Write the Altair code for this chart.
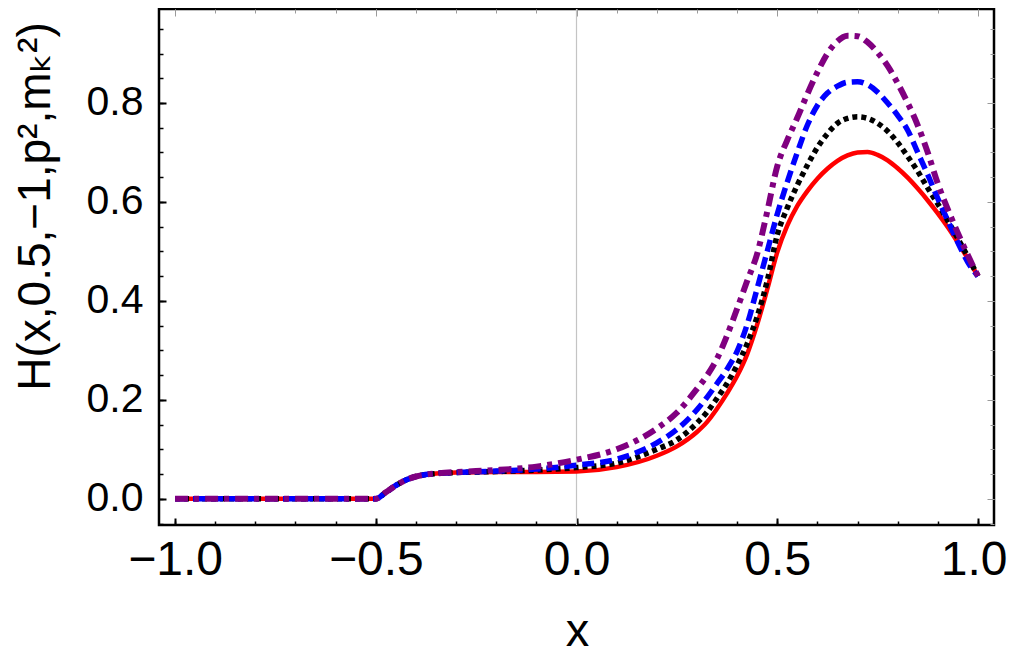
import altair as alt
import pandas as pd

X_VALUES = [-1.0, -0.9, -0.8, -0.7, -0.6, -0.5, -0.475, -0.45, -0.425, -0.4, -0.375, -0.35,
            -0.3, -0.2, -0.1, 0.0, 0.1, 0.2, 0.25,
            0.3, 0.325, 0.35, 0.375, 0.4, 0.425, 0.45, 0.475, 0.5, 0.525, 0.55, 0.575,
            0.6, 0.625, 0.65, 0.675, 0.7, 0.725, 0.75, 0.775, 0.8, 0.825, 0.85, 0.875,
            0.9, 0.925, 0.95, 0.975, 1.0]

COMMON_LOW = [0, 0, 0, 0, 0, 0, 0.013, 0.027, 0.038, 0.045, 0.049, 0.051]

RED = COMMON_LOW + [0.053, 0.054, 0.054, 0.055, 0.064, 0.087, 0.106,
                    0.135, 0.155, 0.182, 0.213, 0.248, 0.292, 0.352, 0.423, 0.498, 0.552,
                    0.592, 0.622, 0.647, 0.667, 0.683, 0.694, 0.700, 0.701, 0.695, 0.684,
                    0.668, 0.649, 0.627, 0.603, 0.577, 0.549, 0.518, 0.485, 0.45]
BLACK = COMMON_LOW + [0.053, 0.055, 0.058, 0.063, 0.072, 0.100, 0.119,
                      0.153, 0.175, 0.203, 0.233, 0.270, 0.313, 0.368, 0.440, 0.533, 0.588,
                      0.634, 0.674, 0.710, 0.738, 0.759, 0.769, 0.772, 0.769, 0.759, 0.743,
                      0.720, 0.692, 0.662, 0.628, 0.596, 0.562, 0.526, 0.489, 0.45]
BLUE = COMMON_LOW + [0.053, 0.056, 0.060, 0.068, 0.080, 0.113, 0.140,
                     0.180, 0.205, 0.233, 0.262, 0.298, 0.352, 0.425, 0.500, 0.575, 0.640,
                     0.700, 0.755, 0.795, 0.820, 0.834, 0.842, 0.843, 0.837, 0.822, 0.800,
                     0.775, 0.745, 0.700, 0.655, 0.607, 0.562, 0.518, 0.478, 0.45]
PURPLE = COMMON_LOW + [0.054, 0.058, 0.065, 0.079, 0.100, 0.142, 0.174,
                       0.222, 0.249, 0.283, 0.330, 0.384, 0.440, 0.495, 0.580, 0.672, 0.725,
                       0.770, 0.818, 0.862, 0.900, 0.925, 0.936, 0.935, 0.923, 0.902, 0.875,
                       0.840, 0.800, 0.755, 0.700, 0.637, 0.585, 0.537, 0.492, 0.45]

X_MAJOR = [-1.0, -0.5, 0.0, 0.5, 1.0]
X_LABEL_END = [1.0]
X_MINOR = [-1.0, -0.9, -0.8, -0.7, -0.6, -0.5, -0.4, -0.3, -0.2, -0.1, 0.0,
           0.1, 0.2, 0.3, 0.4, 0.5, 0.6, 0.7, 0.8, 0.9, 1.0]
Y_MAJOR = [0.0, 0.2, 0.4, 0.6, 0.8]
Y_MINOR = [-0.05, 0.0, 0.05, 0.1, 0.15, 0.2, 0.25, 0.3, 0.35, 0.4, 0.45, 0.5, 0.55,
           0.6, 0.65, 0.7, 0.75, 0.8, 0.85, 0.9, 0.95]

SANS = "Liberation Sans, Arial, DejaVu Sans, sans-serif"
XFS = 48

def frame(name, ys):
    return pd.DataFrame({"x": X_VALUES, "y": ys, "series": name})

xs = alt.Scale(domain=[-1.04, 1.04], nice=False, zero=False)
ysc = alt.Scale(domain=[-0.053, 0.99], nice=False, zero=False)

ax_bottom = alt.Axis(orient="bottom", values=X_MAJOR, format=".1f", offset=-7, tickSize=7,
                     tickWidth=2, tickColor="black", labelFontSize=XFS, labelFont=SANS,
                     labelColor="black", labelPadding=11, labelFlush=False, labelOverlap=False,
                     labelExpr="datum.value > 0.99 ? '' : datum.label",
                     title="x", titleFont=SANS, titleFontSize=47, titleFontWeight="normal",
                     titleColor="black", titleX=418, titleY=113, titleBaseline="middle",
                     titleAlign="center")
ax_bottom_end = alt.Axis(orient="bottom", values=X_LABEL_END, format=".1f", offset=-7,
                         tickSize=7, ticks=False, labelFontSize=XFS, labelFont=SANS,
                         labelColor="black", labelPadding=18, labelFlush=20,
                         labelFlushOffset=29, labelOverlap=False, title=None)
ax_bottom_minor = alt.Axis(orient="bottom", values=X_MINOR, offset=-4, tickSize=4,
                           tickWidth=1.5, tickColor="black", labels=False, title=None)
ax_top = alt.Axis(orient="top", values=X_MAJOR, offset=-7, tickSize=7, tickWidth=1,
                  tickColor="#9a9a9a", labels=False, title=None)
ax_top_minor = alt.Axis(orient="top", values=X_MINOR, offset=-4, tickSize=4, tickWidth=1,
                        tickColor="#9a9a9a", labels=False, title=None)

ax_left = alt.Axis(orient="left", values=Y_MAJOR, format=".1f", offset=-7, tickSize=7,
                   tickWidth=2, tickColor="black", labelFontSize=41, labelFont=SANS,
                   labelColor="black", labelPadding=16, labelFlush=False, labelOverlap=False,
                   title="H(x,0.5,\u22121,p\u00b2,m\u2096\u00b2)", titleFont=SANS,
                   titleFontSize=46, titleFontWeight="normal", titleColor="black",
                   titleAngle=270, titleX=-131, titleY=197, titleBaseline="middle",
                   titleAlign="center")
ax_left_minor = alt.Axis(orient="left", values=Y_MINOR, offset=-4, tickSize=4,
                         tickWidth=1.5, tickColor="black", labels=False, title=None)
ax_right = alt.Axis(orient="right", values=Y_MAJOR, offset=-7, tickSize=7, tickWidth=1,
                    tickColor="#9a9a9a", labels=False, title=None)
ax_right_minor = alt.Axis(orient="right", values=Y_MINOR, offset=-4, tickSize=4, tickWidth=1,
                          tickColor="#9a9a9a", labels=False, title=None)

zero_rule = alt.Chart(pd.DataFrame({"x": [0.0]})).mark_rule(
    color="#c4c4c4", strokeWidth=1.2
).encode(x=alt.X("x:Q", scale=xs, axis=ax_bottom_end))

def line(df, color, dash, width, xaxis, yaxis):
    kw = dict(color=color, strokeWidth=width, interpolate="monotone", strokeCap="butt",
              strokeJoin="round")
    if dash:
        kw["strokeDash"] = dash
    return alt.Chart(df).mark_line(**kw).encode(
        x=alt.X("x:Q", scale=xs, axis=xaxis),
        y=alt.Y("y:Q", scale=ysc, axis=yaxis),
        order="x:Q",
    )

red = line(frame("red", RED), "#ff0000", None, 4.5, ax_bottom, ax_left)
black = line(frame("black", BLACK), "#000000", [5, 4], 5.5, ax_bottom_minor, ax_left_minor)
blue = line(frame("blue", BLUE), "#0000ff", [12, 6], 5.5, ax_top, ax_right)
purple = line(frame("purple", PURPLE), "#800080", [13, 6, 5, 6], 6, ax_top_minor, ax_right_minor)

chart = alt.layer(zero_rule, red, black, blue, purple).resolve_axis(
    x="independent", y="independent"
).properties(
    width=835, height=516,
    autosize=alt.AutoSizeParams(type="none"),
    padding={"left": 151, "top": 1, "right": 13, "bottom": 132},
).configure_view(stroke="black", strokeWidth=2.5).configure_axis(domain=False, grid=False)

chart.save("out.html", embed_options={"renderer": "svg", "actions": False})
